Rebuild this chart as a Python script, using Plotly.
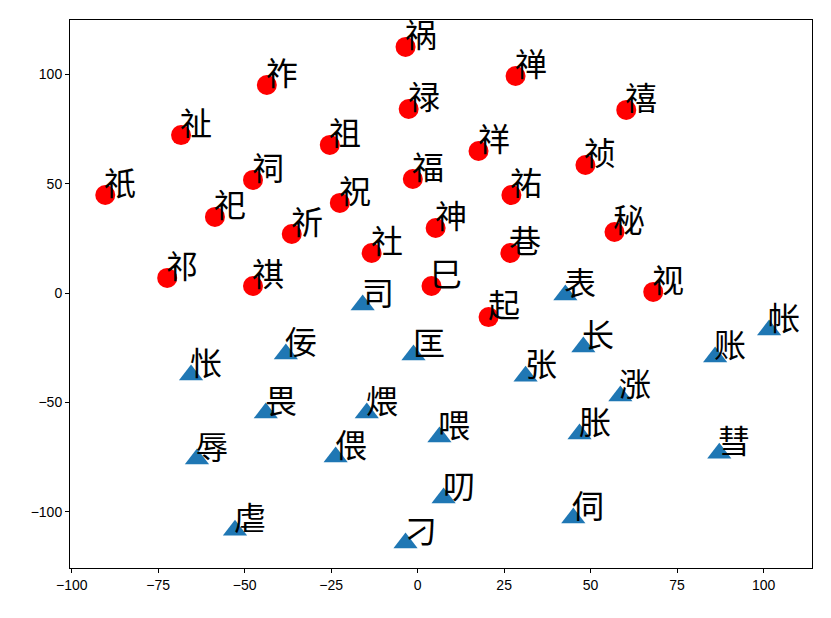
import plotly.graph_objects as go

# red group (circles)
red_words = ['祇', '祁', '祉', '祚', '祀', '祠', '祺', '祈', '祖', '祝', '社', '祸', '禄',
             '福', '神', '巳', '祥', '禅', '祐', '巷', '起', '祯', '禧', '秘', '视']
red_x = [-90.3, -72.4, -68.4, -43.6, -58.6, -47.6, -47.6, -36.4, -25.4, -22.5, -13.3, -3.5, -2.6,
         -1.4, 5.2, 4.0, 17.6, 28.3, 27.1, 26.8, 20.5, 48.5, 60.3, 56.9, 68.1]
red_y = [44.8, 6.9, 72.2, 95.1, 34.8, 51.7, 3.2, 27.0, 67.7, 41.2, 18.3, 112.5, 84.1,
         52.1, 29.7, 3.2, 64.9, 99.2, 44.8, 18.3, -11.0, 58.5, 83.7, 27.9, 0.5]

# blue group (triangles)
blue_words = ['司', '怅', '佞', '畏', '匡', '煨', '偎', '喂', '辱', '虐', '叨', '刁',
              '张', '表', '长', '涨', '胀', '伺', '账', '帐', '彗']
blue_x = [-15.9, -65.5, -38.1, -43.9, -1.2, -14.7, -23.7, 6.3, -63.8, -52.8, 7.5, -3.5,
          31.2, 42.7, 47.9, 58.6, 46.8, 45.0, 86.0, 101.6, 87.2]
blue_y = [-5.5, -37.5, -27.9, -54.9, -28.3, -54.9, -75.0, -65.8, -75.9, -108.4, -93.7, -114.3,
          -38.0, -0.9, -24.7, -47.1, -64.5, -102.9, -29.3, -16.9, -73.2]

x_ticks = [-100, -75, -50, -25, 0, 25, 50, 75, 100]
y_ticks = [-100, -50, 0, 50, 100]

fig = go.Figure()

fig.add_trace(go.Scatter(
    x=red_x, y=red_y, mode='markers',
    marker=dict(color='red', size=20, symbol='circle', line=dict(width=0)),
    showlegend=False, hoverinfo='skip'
))
fig.add_trace(go.Scatter(
    x=blue_x, y=blue_y, mode='markers',
    marker=dict(color='#1f77b4', size=21, symbol='triangle-up', line=dict(width=0)),
    showlegend=False, hoverinfo='skip'
))

# word labels: left edge at the point, baseline near the point
for words, xs, ys in [(red_words, red_x, red_y), (blue_words, blue_x, blue_y)]:
    for w, x, y in zip(words, xs, ys):
        fig.add_annotation(
            x=x, y=y, text=w, showarrow=False,
            xanchor='left', yanchor='bottom',
            xshift=-3, yshift=-11,
            font=dict(family='Noto Sans CJK SC', size=32, color='black')
        )

axis_style = dict(
    showgrid=False, zeroline=False,
    showline=True, linecolor='black', linewidth=1, mirror=True,
    ticks='outside', ticklen=4, tickwidth=1, tickcolor='black',
    tickfont=dict(family='Liberation Sans', size=14, color='black')
)

fig.update_layout(
    width=831, height=618,
    margin=dict(l=62, r=27, t=12, b=58),
    plot_bgcolor='white', paper_bgcolor='white',
    xaxis=dict(range=[-100.5, 114], tickvals=x_ticks, **axis_style),
    yaxis=dict(range=[-125.7, 124.8], tickvals=y_ticks, **axis_style),
)

fig.write_html("out.html")
